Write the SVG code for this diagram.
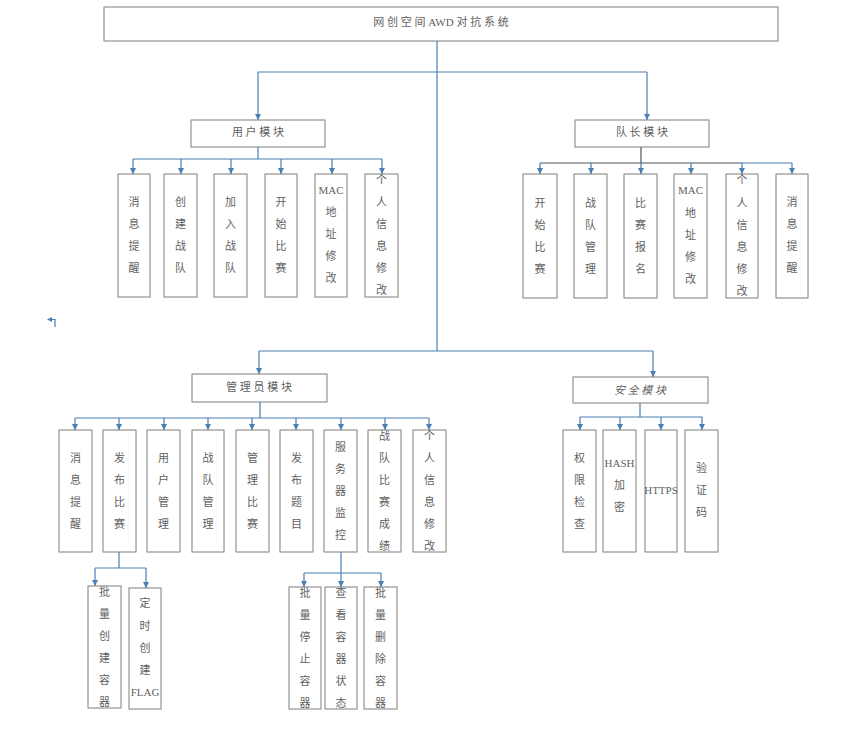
<svg xmlns="http://www.w3.org/2000/svg" width="846" height="742" viewBox="0 0 846 742">
<style>
.b{fill:#fff;stroke:#7f7f7f;stroke-width:1}
.t{font-family:"Liberation Serif","Noto Sans CJK SC",serif;font-size:11px;fill:#5f5f5f;text-anchor:middle}
.c{fill:none;stroke:#4a7fb5;stroke-width:1.2}
.d{fill:none;stroke:#4a5560;stroke-width:1.2}
.a{marker-end:url(#ar)}
</style>
<defs>
<marker id="ar" markerWidth="6" markerHeight="6" refX="6" refY="3" orient="auto" markerUnits="userSpaceOnUse">
<path d="M0,0 L6,3 L0,6 z" fill="#4a7fb5"/>
</marker>
</defs>
<rect width="846" height="742" fill="#fff"/>
<g id="connectors">
<path class="c" d="M437,41 V351"/>
<path class="c" d="M258,72 H647"/>
<path class="c a" d="M258,72 V120"/>
<path class="c a" d="M647,72 V120"/>
<path class="c" d="M258,147 V159 M133,159 H382"/>
<path class="c a" d="M133,159 V174"/><path class="c a" d="M181,159 V174"/><path class="c a" d="M231,159 V174"/><path class="c a" d="M281,159 V174"/><path class="c a" d="M332,159 V174"/><path class="c a" d="M382,159 V174"/>
<path class="d" d="M641,147 V163 M540,163 H742"/>
<path class="c" d="M742,163 H792"/>
<path class="c a" d="M540,163 V174"/><path class="c a" d="M591,163 V174"/><path class="c a" d="M641,163 V174"/><path class="c a" d="M691,163 V174"/><path class="c a" d="M742,163 V174"/><path class="c a" d="M792,163 V174"/>
<path class="c" d="M259,351 H653"/>
<path class="c a" d="M259,351 V374"/>
<path class="c a" d="M653,351 V377"/>
<path class="c" d="M260,402 V418 M75,418 H429"/>
<path class="c a" d="M75,418 V430"/><path class="c a" d="M119,418 V430"/><path class="c a" d="M164,418 V430"/><path class="c a" d="M208,418 V430"/><path class="c a" d="M252,418 V430"/><path class="c a" d="M296,418 V430"/><path class="c a" d="M341,418 V430"/><path class="c a" d="M385,418 V430"/><path class="c a" d="M429,418 V430"/>
<path class="c" d="M640,403 V417 M580,417 H702"/>
<path class="c a" d="M580,417 V430"/><path class="c a" d="M620,417 V430"/><path class="c a" d="M661,417 V430"/><path class="c a" d="M702,417 V430"/>
<path class="c" d="M119,552 V568 M95,568 H146"/>
<path class="c a" d="M95,568 V586"/><path class="c a" d="M146,568 V588"/>
<path class="c a" d="M341,552 V587"/>
<path class="c" d="M304,573 H381"/>
<path class="c a" d="M304,573 V587"/><path class="c a" d="M381,573 V587"/>
<path class="c" d="M55,327 V319.5 H52"/>
<path d="M47,319.5 L52,317 L52,322 z" fill="#4a7fb5"/>
<path d="M87,516 L92,513.5 L92,518.5 z" fill="#4a7fb5"/>
</g>
<g id="root"><rect class="b" x="104" y="7" width="674" height="34"/><text class="t" x="441" y="26">网 创 空 间 AWD 对 抗 系 统</text></g>
<g id="user"><rect class="b" x="191" y="120" width="134" height="27"/><text class="t" x="258" y="136">用 户 模 块</text></g>
<g id="captain"><rect class="b" x="575" y="120" width="134" height="27"/><text class="t" x="642" y="136">队 长 模 块</text></g>
<g id="admin"><rect class="b" x="192" y="374" width="135" height="28"/><text class="t" x="259" y="391">管 理 员 模 块</text></g>
<g id="security"><rect class="b" x="573" y="377" width="135" height="26"/><text class="t" x="640" y="394" font-style="italic">安 全 模 块</text></g>

<g id="u1"><rect class="b" x="118" y="174" width="32" height="123"/><text class="t"><tspan x="134" y="206">消</tspan><tspan x="134" y="228">息</tspan><tspan x="134" y="250">提</tspan><tspan x="134" y="272">醒</tspan></text></g>
<g id="u2"><rect class="b" x="164" y="174" width="33" height="123"/><text class="t"><tspan x="180.5" y="206">创</tspan><tspan x="180.5" y="228">建</tspan><tspan x="180.5" y="250">战</tspan><tspan x="180.5" y="272">队</tspan></text></g>
<g id="u3"><rect class="b" x="214" y="174" width="33" height="123"/><text class="t"><tspan x="230.5" y="206">加</tspan><tspan x="230.5" y="228">入</tspan><tspan x="230.5" y="250">战</tspan><tspan x="230.5" y="272">队</tspan></text></g>
<g id="u4"><rect class="b" x="265" y="174" width="32" height="123"/><text class="t"><tspan x="281" y="206">开</tspan><tspan x="281" y="228">始</tspan><tspan x="281" y="250">比</tspan><tspan x="281" y="272">赛</tspan></text></g>
<g id="u5"><rect class="b" x="315" y="174" width="32" height="123"/><text class="t"><tspan x="331" y="194">MAC</tspan><tspan x="331" y="216">地</tspan><tspan x="331" y="238">址</tspan><tspan x="331" y="260">修</tspan><tspan x="331" y="282">改</tspan></text></g>
<g id="u6"><rect class="b" x="365" y="174" width="33" height="123"/><text class="t"><tspan x="381.5" y="184">个</tspan><tspan x="381.5" y="206">人</tspan><tspan x="381.5" y="228">信</tspan><tspan x="381.5" y="250">息</tspan><tspan x="381.5" y="272">修</tspan><tspan x="381.5" y="294">改</tspan></text></g>

<g id="c1"><rect class="b" x="523" y="174" width="34" height="124"/><text class="t"><tspan x="540" y="207">开</tspan><tspan x="540" y="229">始</tspan><tspan x="540" y="251">比</tspan><tspan x="540" y="273">赛</tspan></text></g>
<g id="c2"><rect class="b" x="574" y="174" width="33" height="124"/><text class="t"><tspan x="590.5" y="207">战</tspan><tspan x="590.5" y="229">队</tspan><tspan x="590.5" y="251">管</tspan><tspan x="590.5" y="273">理</tspan></text></g>
<g id="c3"><rect class="b" x="624" y="174" width="33" height="124"/><text class="t"><tspan x="640.5" y="207">比</tspan><tspan x="640.5" y="229">赛</tspan><tspan x="640.5" y="251">报</tspan><tspan x="640.5" y="273">名</tspan></text></g>
<g id="c4"><rect class="b" x="674" y="174" width="33" height="124"/><text class="t"><tspan x="690.5" y="194">MAC</tspan><tspan x="690.5" y="217">地</tspan><tspan x="690.5" y="239">址</tspan><tspan x="690.5" y="261">修</tspan><tspan x="690.5" y="283">改</tspan></text></g>
<g id="c5"><rect class="b" x="726" y="174" width="32" height="124"/><text class="t"><tspan x="742" y="184">个</tspan><tspan x="742" y="207">人</tspan><tspan x="742" y="229">信</tspan><tspan x="742" y="251">息</tspan><tspan x="742" y="273">修</tspan><tspan x="742" y="295">改</tspan></text></g>
<g id="c6"><rect class="b" x="776" y="174" width="32" height="124"/><text class="t"><tspan x="792" y="206">消</tspan><tspan x="792" y="228">息</tspan><tspan x="792" y="250">提</tspan><tspan x="792" y="272">醒</tspan></text></g>

<g id="a1"><rect class="b" x="59" y="430" width="33" height="122"/><text class="t"><tspan x="75.5" y="462">消</tspan><tspan x="75.5" y="484">息</tspan><tspan x="75.5" y="506">提</tspan><tspan x="75.5" y="528">醒</tspan></text></g>
<g id="a2"><rect class="b" x="103" y="430" width="33" height="122"/><text class="t"><tspan x="119.5" y="462">发</tspan><tspan x="119.5" y="484">布</tspan><tspan x="119.5" y="506">比</tspan><tspan x="119.5" y="528">赛</tspan></text></g>
<g id="a3"><rect class="b" x="147" y="430" width="33" height="122"/><text class="t"><tspan x="163.5" y="462">用</tspan><tspan x="163.5" y="484">户</tspan><tspan x="163.5" y="506">管</tspan><tspan x="163.5" y="528">理</tspan></text></g>
<g id="a4"><rect class="b" x="192" y="430" width="32" height="122"/><text class="t"><tspan x="208" y="462">战</tspan><tspan x="208" y="484">队</tspan><tspan x="208" y="506">管</tspan><tspan x="208" y="528">理</tspan></text></g>
<g id="a5"><rect class="b" x="236" y="430" width="33" height="122"/><text class="t"><tspan x="252.5" y="462">管</tspan><tspan x="252.5" y="484">理</tspan><tspan x="252.5" y="506">比</tspan><tspan x="252.5" y="528">赛</tspan></text></g>
<g id="a6"><rect class="b" x="280" y="430" width="33" height="122"/><text class="t"><tspan x="296.5" y="462">发</tspan><tspan x="296.5" y="484">布</tspan><tspan x="296.5" y="506">题</tspan><tspan x="296.5" y="528">目</tspan></text></g>
<g id="a7"><rect class="b" x="324" y="430" width="33" height="122"/><text class="t"><tspan x="340.5" y="451">服</tspan><tspan x="340.5" y="473">务</tspan><tspan x="340.5" y="495">器</tspan><tspan x="340.5" y="517">监</tspan><tspan x="340.5" y="539">控</tspan></text></g>
<g id="a8"><rect class="b" x="368" y="430" width="33" height="122"/><text class="t"><tspan x="384.5" y="440">战</tspan><tspan x="384.5" y="462">队</tspan><tspan x="384.5" y="484">比</tspan><tspan x="384.5" y="506">赛</tspan><tspan x="384.5" y="528">成</tspan><tspan x="384.5" y="550">绩</tspan></text></g>
<g id="a9"><rect class="b" x="413" y="430" width="33" height="122"/><text class="t"><tspan x="429.5" y="440">个</tspan><tspan x="429.5" y="462">人</tspan><tspan x="429.5" y="484">信</tspan><tspan x="429.5" y="506">息</tspan><tspan x="429.5" y="528">修</tspan><tspan x="429.5" y="550">改</tspan></text></g>

<g id="s1"><rect class="b" x="563" y="430" width="33" height="122"/><text class="t"><tspan x="579.5" y="462">权</tspan><tspan x="579.5" y="484">限</tspan><tspan x="579.5" y="506">检</tspan><tspan x="579.5" y="528">查</tspan></text></g>
<g id="s2"><rect class="b" x="603" y="430" width="33" height="122"/><text class="t"><tspan x="619.5" y="467">HASH</tspan><tspan x="619.5" y="489">加</tspan><tspan x="619.5" y="511">密</tspan></text></g>
<g id="s3"><rect class="b" x="645" y="430" width="32" height="122"/><text class="t"><tspan x="661" y="494">HTTPS</tspan></text></g>
<g id="s4"><rect class="b" x="685" y="430" width="33" height="122"/><text class="t"><tspan x="701.5" y="472">验</tspan><tspan x="701.5" y="494">证</tspan><tspan x="701.5" y="516">码</tspan></text></g>

<g id="p1"><rect class="b" x="88" y="586" width="33" height="122"/><text class="t"><tspan x="104.5" y="596">批</tspan><tspan x="104.5" y="618">量</tspan><tspan x="104.5" y="640">创</tspan><tspan x="104.5" y="662">建</tspan><tspan x="104.5" y="684">容</tspan><tspan x="104.5" y="706">器</tspan></text></g>
<g id="p2"><rect class="b" x="129" y="588" width="32" height="121"/><text class="t"><tspan x="145" y="607">定</tspan><tspan x="145" y="630">时</tspan><tspan x="145" y="652">创</tspan><tspan x="145" y="674">建</tspan><tspan x="145" y="696">FLAG</tspan></text></g>
<g id="m1"><rect class="b" x="289" y="587" width="32" height="122"/><text class="t"><tspan x="305" y="597">批</tspan><tspan x="305" y="619">量</tspan><tspan x="305" y="641">停</tspan><tspan x="305" y="663">止</tspan><tspan x="305" y="685">容</tspan><tspan x="305" y="707">器</tspan></text></g>
<g id="m2"><rect class="b" x="325" y="587" width="32" height="122"/><text class="t"><tspan x="341" y="597">查</tspan><tspan x="341" y="619">看</tspan><tspan x="341" y="641">容</tspan><tspan x="341" y="663">器</tspan><tspan x="341" y="685">状</tspan><tspan x="341" y="707">态</tspan></text></g>
<g id="m3"><rect class="b" x="364" y="587" width="33" height="122"/><text class="t"><tspan x="380.5" y="597">批</tspan><tspan x="380.5" y="619">量</tspan><tspan x="380.5" y="641">删</tspan><tspan x="380.5" y="663">除</tspan><tspan x="380.5" y="685">容</tspan><tspan x="380.5" y="707">器</tspan></text></g>
</svg>
